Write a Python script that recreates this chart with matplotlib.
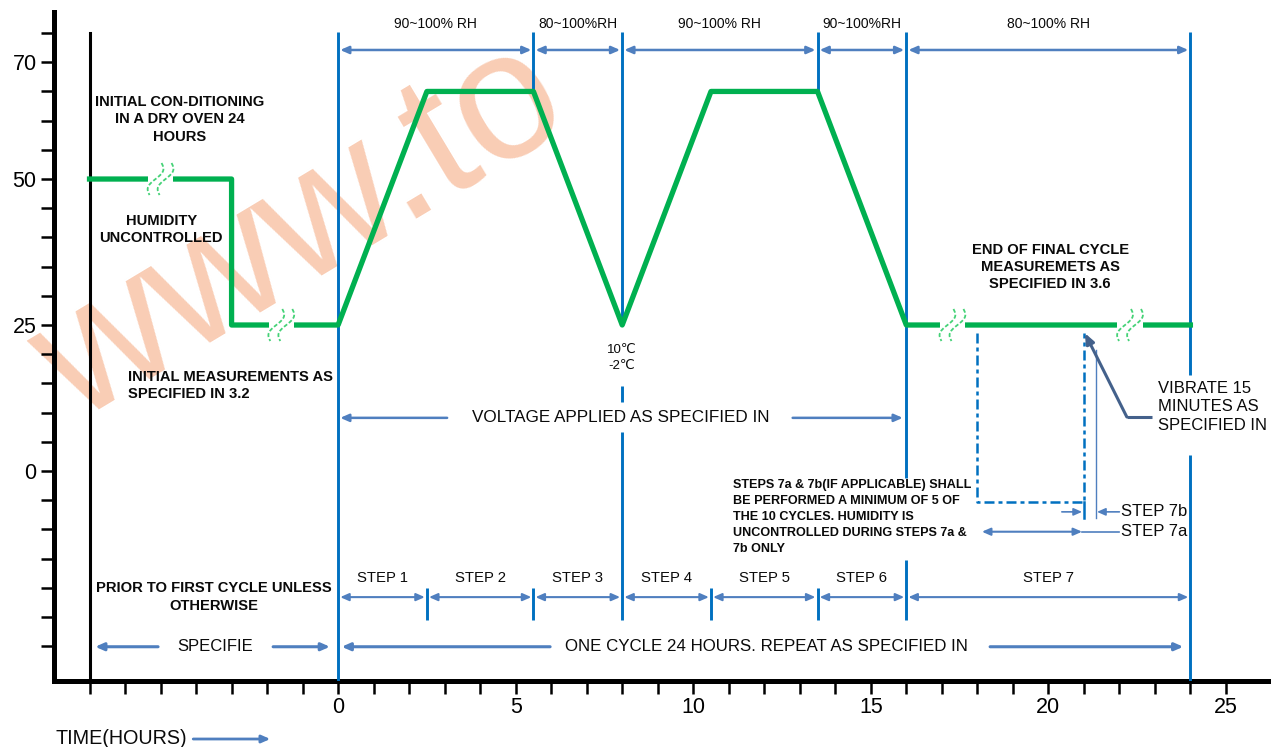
import matplotlib.pyplot as plt
import numpy as np
from matplotlib import font_manager, transforms

# humidity profile: dry-oven conditioning, then one 24 h cycle
PROFILE_HOURS = [-7, -3, -3, 0, 2.5, 5.5, 8, 10.5, 13.5, 16, 24]
PROFILE_LEVEL = [50, 50, 25, 25, 65, 65, 25, 65, 65, 25, 25]

# break marks on the profile
BREAK_HOURS = [-5.0, -1.6, 17.3, 22.3]
BREAK_LEVEL = [50, 25, 25, 25]

# steps of the cycle
STEP_EDGES = [0, 2.5, 5.5, 8, 10.5, 13.5, 16, 24]
STEP_NAMES = ["STEP 1", "STEP 2", "STEP 3", "STEP 4", "STEP 5", "STEP 6", "STEP 7"]

# humidity bands along the top
RH_EDGES = [0, 5.5, 8, 13.5, 16, 24]
RH_LABELS = ["90~100% RH", "80~100%RH", "90~100% RH", "90~100%RH", "80~100% RH"]

# step 7a / 7b window (hours)
STEP7A_SPAN = [18, 21]
STEP7B_AT = 21.35

XTICKS = list(range(-7, 26))
XTICK_LABELS = [str(t) if t >= 0 and t % 5 == 0 else "" for t in XTICKS]
YTICKS = list(range(-30, 80, 5))
YTICK_LABELS = [str(v) if v in (0, 25, 50, 70) else "" for v in YTICKS]

GREEN = "#00b050"
BLUE = "#0070c0"
ARROW = "#4f7fbf"
POINTER = "#44618b"
TEXT = "#0a0a0a"

names = {f.name for f in font_manager.fontManager.ttflist}
NARROW = "Liberation Sans Narrow" in names
plt.rcParams["font.family"] = [
    "Liberation Sans Narrow" if NARROW else "Liberation Sans", "DejaVu Sans"]
K = 1.18 if NARROW else 1.0

fig = plt.figure(figsize=(12.71, 7.47), dpi=100)
ax = fig.add_axes([0.0425, 0.0884, 0.9575, 0.8955])
ax.set_xlim(-8.0, 26.27)
ax.set_ylim(-35.96, 78.6)

for side in ("top", "right"):
    ax.spines[side].set_visible(False)
for side in ("left", "bottom"):
    ax.spines[side].set_linewidth(3.6)
ax.set_xticks(XTICKS, XTICK_LABELS)
ax.set_yticks(YTICKS, YTICK_LABELS)
ax.tick_params(direction="out", length=9.5, width=1.8, labelsize=15.5 * K)
ax.tick_params(axis="x", pad=2)
ax.tick_params(axis="y", pad=3)

# watermark
ax.text(-7.38, 8.2, "www.to", fontsize=130, rotation=31, rotation_mode="anchor",
        color="#f9cdb5", ha="left", va="baseline", zorder=0.5,
        family="Liberation Sans")

# black start line of conditioning
ax.plot([-7, -7], [75, -35.96], color="black", lw=2.2, zorder=3)

# blue cycle lines
top = 75.2
bottom = -35.96
blue_segments = [
    (STEP_EDGES[0], top, bottom),
    (STEP_EDGES[2], top, 65), (STEP_EDGES[5], top, 65),
    (STEP_EDGES[3], top, 25), (STEP_EDGES[3], 14.6, 11.8), (STEP_EDGES[3], 6.7, -25.5),
    (STEP_EDGES[6], top, -1.2), (STEP_EDGES[6], -15.2, -25.5),
    (STEP_EDGES[7], top, 16.4), (STEP_EDGES[7], 2.7, bottom),
]
for edge in (STEP_EDGES[1], STEP_EDGES[2], STEP_EDGES[4], STEP_EDGES[5]):
    blue_segments.append((edge, -20.0, -25.5))
for x, y0, y1 in blue_segments:
    ax.plot([x, x], [y0, y1], color=BLUE, lw=2.1, solid_capstyle="butt", zorder=3)

# humidity profile
ax.plot(PROFILE_HOURS, PROFILE_LEVEL, color=GREEN, lw=3.8, zorder=4)

# break marks
tt = np.linspace(0, 1, 30)
sx = (6 - 12 * tt + 4.5 * np.sin(2 * np.pi * tt)) / 100
sy = (16 - 32 * tt) / 100
for bx, by in zip(BREAK_HOURS, BREAK_LEVEL):
    ax.plot([bx - 0.36, bx + 0.36], [by, by], color="white", lw=6, zorder=5,
            solid_capstyle="butt")
    tr = fig.dpi_scale_trans + transforms.ScaledTranslation(bx, by, ax.transData)
    for off in (-0.05, 0.05):
        ax.plot(sx + off, sy, color="#45d277", lw=1.3, ls=(0, (2.2, 1.2)),
                transform=tr, zorder=6)


def arrow(x0, x1, y, style="<|-|>", lw=1.5, color=ARROW, shrink=1.5):
    ax.annotate("", xy=(x1, y), xytext=(x0, y), annotation_clip=False,
                arrowprops=dict(arrowstyle=f"{style},head_length=0.5,head_width=0.22",
                                color=color, lw=lw, shrinkA=shrink, shrinkB=shrink))


# humidity bands
for a, b, lab in zip(RH_EDGES[:-1], RH_EDGES[1:], RH_LABELS):
    arrow(a, b, 72.1, lw=1.8)
    ax.text((a + b) / 2, 76.6, lab, fontsize=10 * K, ha="center", va="center",
            color=TEXT)

# step row
for a, b, lab in zip(STEP_EDGES[:-1], STEP_EDGES[1:], STEP_NAMES):
    arrow(a, b, -21.6, lw=1.5)
    ax.text((a + b) / 2, -18.3, lab, fontsize=10.7 * K, ha="center", va="center",
            color=TEXT)

# voltage row
arrow(3.07, 0.06, 9.1, style="-|>", lw=1.8, shrink=0)
arrow(12.8, 15.9, 9.1, style="-|>", lw=1.8, shrink=0)
ax.text(7.97, 9.1, "VOLTAGE APPLIED AS SPECIFIED IN", fontsize=12.3 * K,
        ha="center", va="center", color=TEXT)

# cycle row
arrow(-5.07, -6.84, -30.1, style="-|>", lw=2.2, shrink=0)
arrow(-1.83, -0.23, -30.1, style="-|>", lw=2.2, shrink=0)
ax.text(-3.45, -30.1, "SPECIFIE", fontsize=12 * K, ha="center", va="center",
        color=TEXT)
arrow(5.97, 0.1, -30.1, style="-|>", lw=2.2, shrink=0)
arrow(18.36, 23.8, -30.1, style="-|>", lw=2.2, shrink=0)
ax.text(12.05, -30.1, "ONE CYCLE 24 HOURS. REPEAT AS SPECIFIED IN",
        fontsize=12.2 * K, ha="center", va="center", color=TEXT)

# notes
note = dict(fontsize=10.6 * K, fontweight="bold", color=TEXT, linespacing=1.3)
ax.text(-4.45, 60.2, "INITIAL CON-DITIONING\nIN A DRY OVEN 24\nHOURS",
        ha="center", va="center", **note)
ax.text(-4.98, 41.3, "HUMIDITY\nUNCONTROLLED", ha="center", va="center", **note)
ax.text(-5.91, 14.6, "INITIAL MEASUREMENTS AS\nSPECIFIED IN 3.2",
        ha="left", va="center", **note)
ax.text(-3.49, -21.6, "PRIOR TO FIRST CYCLE UNLESS\nOTHERWISE",
        ha="center", va="center", **note)
ax.text(20.05, 34.9, "END OF FINAL CYCLE\nMEASUREMETS AS\nSPECIFIED IN 3.6",
        ha="center", va="center", **note)
ax.text(8.0, 19.3, "10\u2103\n-2\u2103", fontsize=9.5 * K, ha="center",
        va="center", color=TEXT, linespacing=1.45)
ax.text(11.12, -7.9,
        "STEPS 7a & 7b(IF APPLICABLE) SHALL\nBE PERFORMED A MINIMUM OF 5 OF\n"
        "THE 10 CYCLES. HUMIDITY IS\nUNCONTROLLED DURING STEPS 7a &\n7b ONLY",
        fontsize=9.1 * K, fontweight="bold", color=TEXT, ha="left", va="center",
        linespacing=1.45)

# step 7a / 7b window
a0, a1 = STEP7A_SPAN
ax.plot([a0, a0, a1, a1], [23.6, -5.3, -5.3, 23.6], color=BLUE, lw=1.8,
        ls=(0, (4, 1.6, 1.6, 1.6)), zorder=3)
ax.plot([a1, a1], [-5.3, -8.0], color=BLUE, lw=1.8, zorder=3)
ax.plot([STEP7B_AT, STEP7B_AT], [20.7, -8.0], color=ARROW, lw=1.0, zorder=3)
arrow(a1 - 0.62, a1 - 0.05, -7.0, style="-|>", lw=1.2, shrink=0)
arrow(22.0, STEP7B_AT + 0.02, -7.0, style="-|>", lw=1.2, shrink=0)
arrow(a0 + 0.13, a1 - 0.05, -10.4, lw=1.5, shrink=0)
ax.plot([a1 - 0.05, 22.0], [-10.4, -10.4], color=ARROW, lw=1.2)
ax.text(22.04, -7.0, "STEP 7b", fontsize=12 * K, ha="left", va="center", color=TEXT)
ax.text(22.04, -10.4, "STEP 7a", fontsize=12 * K, ha="left", va="center", color=TEXT)

# vibrate pointer
ax.plot([22.92, 22.21], [9.25, 9.25], color=POINTER, lw=2.2, solid_capstyle="butt")
ax.annotate("", xy=(21.03, 23.6), xytext=(22.21, 9.25),
            arrowprops=dict(arrowstyle="-|>,head_length=0.6,head_width=0.25",
                            color=POINTER, lw=2.2, shrinkA=0, shrinkB=0))
ax.text(23.09, 11.0, "VIBRATE 15\nMINUTES AS\nSPECIFIED IN", fontsize=12 * K,
        ha="left", va="center", color=TEXT, linespacing=1.28)

# time label
ax.text(-7.97, -45.8, "TIME(HOURS)", fontsize=14.2 * K, ha="left", va="center",
        color=TEXT, clip_on=False)
arrow(-4.08, -1.91, -45.9, style="-|>", lw=2.0, shrink=0)

fig.savefig("out.png", dpi=100)
